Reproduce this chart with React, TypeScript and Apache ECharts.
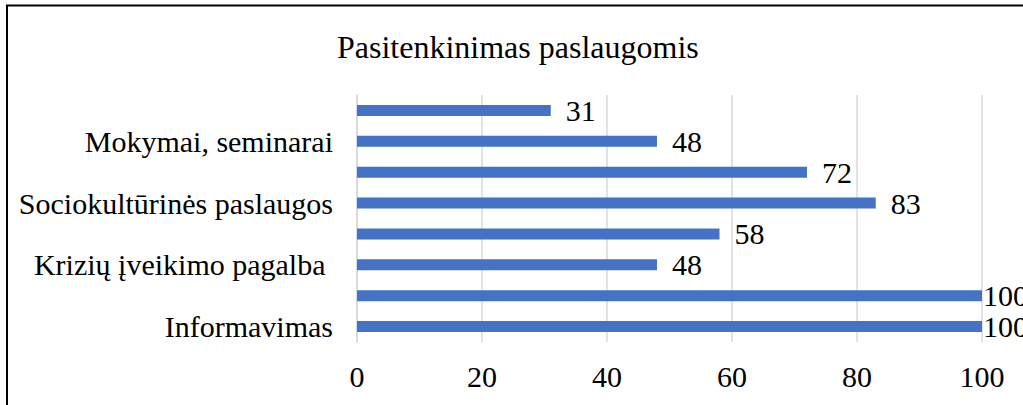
import React, { useEffect, useRef } from "react";
import * as echarts from "echarts";

const title = "Pasitenkinimas paslaugomis";
// bottom-to-top order; unlabeled categories are hidden by the axis label interval
const categories = [
  "Informavimas",
  "",
  "Krizių įveikimo pagalba ",
  "",
  "Sociokultūrinės paslaugos",
  "",
  "Mokymai, seminarai",
  "",
];
const values = [100, 100, 48, 58, 83, 72, 48, 31];
const xMin = 0;
const xMax = 100;
const xInterval = 20;

const FONT = "'Liberation Serif', 'Times New Roman', serif";

export default function App() {
  const ref = useRef<HTMLDivElement>(null);
  useEffect(() => {
    if (!ref.current) return;
    const chart = echarts.init(ref.current, undefined, { renderer: "svg" });
    chart.setOption({
      animation: false,
      backgroundColor: "#ffffff",
      title: {
        text: title,
        left: 332,
        top: 26,
        textStyle: { fontFamily: FONT, fontSize: 32, fontWeight: "normal", color: "#000000" },
      },
      graphic: [
        {
          type: "rect",
          shape: { x: 7, y: 5.5, width: 1100, height: 500 },
          style: { fill: "none", stroke: "#000000", lineWidth: 2 },
          silent: true,
          z: 100,
        },
      ],
      grid: { left: 357, right: 41, top: 95, bottom: 63, containLabel: false },
      xAxis: {
        type: "value",
        min: xMin,
        max: xMax,
        interval: xInterval,
        axisLine: { show: false },
        axisTick: { show: false },
        splitLine: { show: true, lineStyle: { color: "#d9d9d9", width: 1.5 } },
        axisLabel: { fontFamily: FONT, fontSize: 30, color: "#000000", margin: 19 },
      },
      yAxis: {
        type: "category",
        data: categories,
        axisLine: { show: true, lineStyle: { color: "#d9d9d9", width: 1.5 } },
        axisTick: { show: false },
        axisLabel: {
          interval: 1,
          fontFamily: FONT,
          fontSize: 30,
          color: "#000000",
          margin: 24,
        },
      },
      series: [
        {
          type: "bar",
          barWidth: 11,
          itemStyle: { color: "#4472C4" },
          data: values.map((v) => ({
            value: v,
            label: { distance: v >= xMax ? 1 : 15 },
          })),
          label: {
            show: true,
            position: "right",
            fontFamily: FONT,
            fontSize: 30,
            color: "#000000",
          },
        },
      ],
    });
    return () => chart.dispose();
  }, []);
  return (
    <div
      ref={ref}
      style={{ position: "absolute", left: 0, top: 0, width: 1023, height: 405, background: "#fff" }}
    />
  );
}
